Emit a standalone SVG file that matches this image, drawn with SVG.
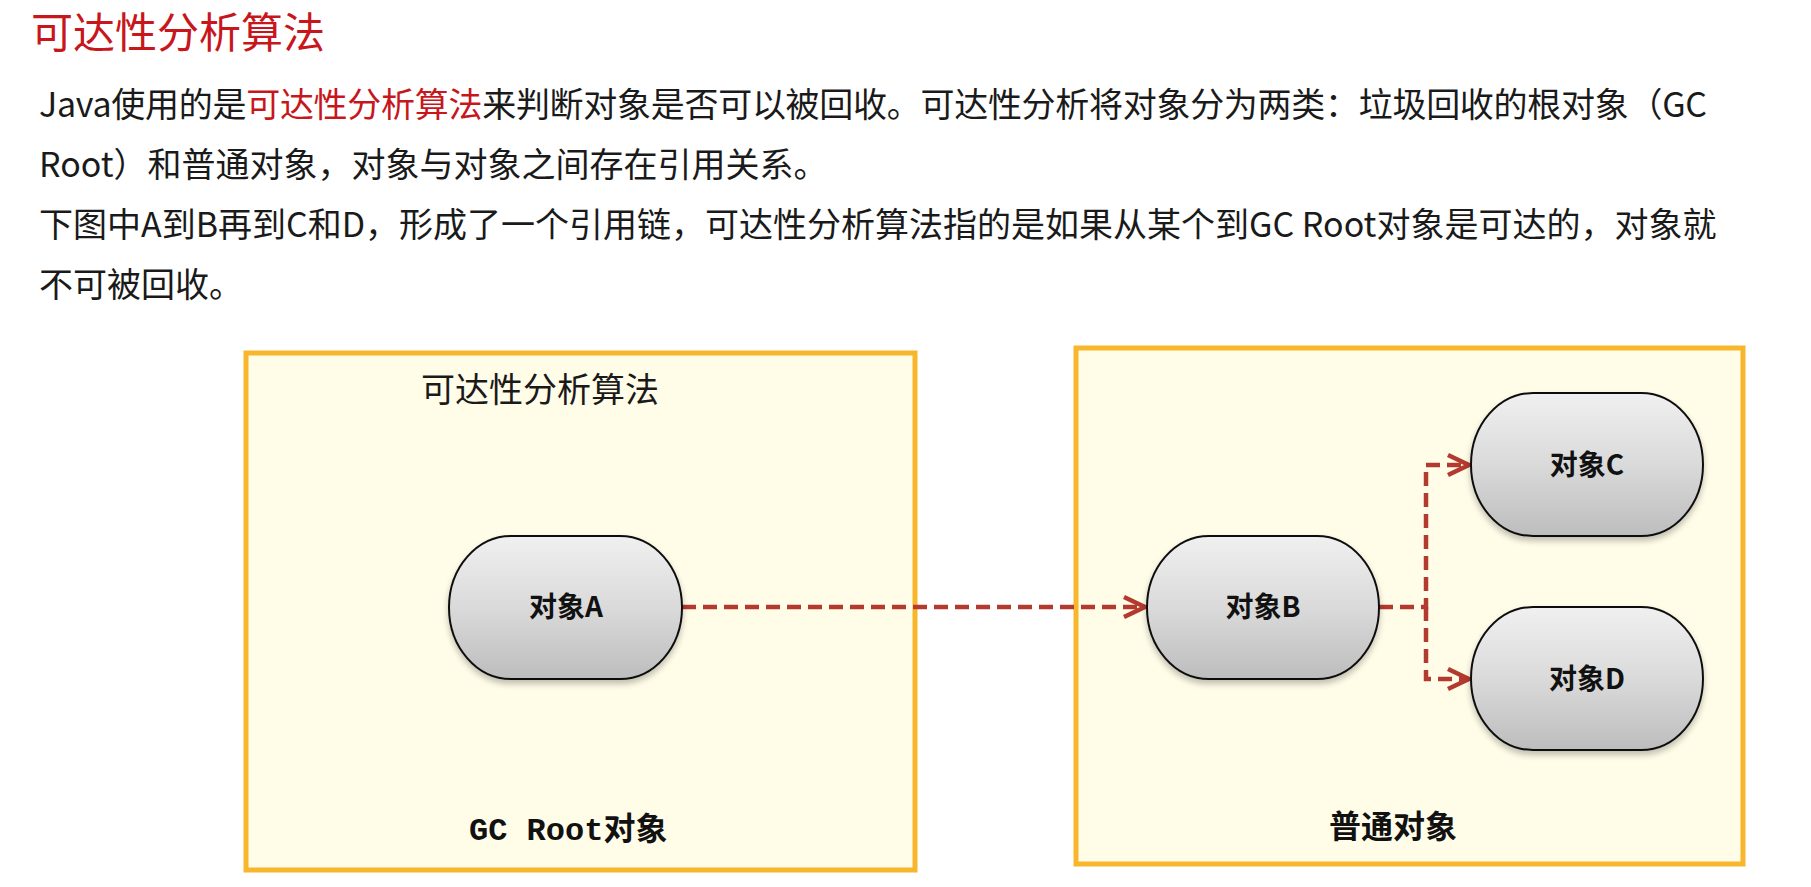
<svg xmlns="http://www.w3.org/2000/svg" width="1811" height="887" viewBox="0 0 1811 887">
  <style>
    .cjk { font-family: "Noto Sans CJK SC", "Noto Sans", sans-serif; }
    .title { font-size: 42px; fill: #C8161D; }
    .para { font-size: 34px; fill: #1A1A1A; }
    .red { fill: #C8161D; }
    .panel { fill: #FFFCE8; stroke: #F8B62D; stroke-width: 5; }
    .panelLabel { font-size: 34px; fill: #1A1A1A; }
    .caption { font-size: 32px; font-weight: bold; fill: #111111; }
    .mono { font-family: "Liberation Mono", "DejaVu Sans Mono", monospace; }
    .node { fill: url(#nodeGrad); stroke: #111111; stroke-width: 2; filter: url(#shadow); }
    .nodeText { font-size: 28px; font-weight: bold; fill: #111111; text-anchor: middle; }
    .conn { fill: none; stroke: #B23A2E; stroke-width: 4.5; stroke-dasharray: 14 7; }
  </style>
  <defs>
    <linearGradient id="nodeGrad" x1="0" y1="0" x2="0" y2="1">
      <stop offset="0" stop-color="#F0F0F0"/>
      <stop offset="0.5" stop-color="#DADADA"/>
      <stop offset="1" stop-color="#BDBDBD"/>
    </linearGradient>
    <filter id="shadow" x="-10%" y="-10%" width="120%" height="130%">
      <feGaussianBlur in="SourceAlpha" stdDeviation="3"/>
      <feOffset dx="0" dy="4" result="b"/>
      <feComponentTransfer><feFuncA type="linear" slope="0.25"/></feComponentTransfer>
      <feMerge><feMergeNode/><feMergeNode in="SourceGraphic"/></feMerge>
    </filter>
    <marker id="arrow" markerUnits="userSpaceOnUse" markerWidth="26" markerHeight="26" viewBox="0 0 26 26" refX="23" refY="13" orient="auto">
      <path d="M2,3 L23,13 L2,23" fill="none" stroke="#B23A2E" stroke-width="4.5" stroke-linejoin="miter"/>
    </marker>
  </defs>

  <rect width="1811" height="887" fill="#FFFFFF"/>

  <g id="header">
    <text class="cjk title" x="31" y="48">可达性分析算法</text>
    <text class="cjk para" x="39" y="117" textLength="1668" lengthAdjust="spacing">Java使用的是<tspan class="red">可达性分析算法</tspan>来判断对象是否可以被回收。可达性分析将对象分为两类：垃圾回收的根对象（GC</text>
    <text class="cjk para" x="39" y="177">Root）和普通对象，对象与对象之间存在引用关系。</text>
    <text class="cjk para" x="39" y="237">下图中A到B再到C和D，形成了一个引用链，可达性分析算法指的是如果从某个到GC Root对象是可达的，对象就</text>
    <text class="cjk para" x="39" y="297">不可被回收。</text>
  </g>

  <g id="panel-gcroot">
    <rect class="panel" x="246" y="353" width="669" height="517"/>
    <text class="cjk panelLabel" x="421" y="402">可达性分析算法</text>
    <text class="caption" x="469" y="840"><tspan class="mono">GC Root</tspan><tspan class="cjk">对象</tspan></text>
  </g>

  <g id="panel-normal">
    <rect class="panel" x="1076" y="348" width="667" height="516"/>
    <text class="cjk caption" x="1329" y="838">普通对象</text>
  </g>

  <g id="connectors">
    <path class="conn" d="M682,607 H1145" marker-end="url(#arrow)"/>
    <path class="conn" d="M1379,607 H1426 V465 H1469" marker-end="url(#arrow)"/>
    <path class="conn" d="M1426,607 V679 H1469" marker-end="url(#arrow)"/>
  </g>

  <g id="node-a">
    <rect class="node" x="449" y="536" width="233" height="143" rx="62" ry="71.5"/>
    <text class="cjk nodeText" x="566" y="617">对象A</text>
  </g>
  <g id="node-b">
    <rect class="node" x="1147" y="536" width="232" height="143" rx="62" ry="71.5"/>
    <text class="cjk nodeText" x="1263" y="617">对象B</text>
  </g>
  <g id="node-c">
    <rect class="node" x="1471" y="393" width="232" height="143" rx="62" ry="71.5"/>
    <text class="cjk nodeText" x="1587" y="475">对象C</text>
  </g>
  <g id="node-d">
    <rect class="node" x="1471" y="607" width="232" height="143" rx="62" ry="71.5"/>
    <text class="cjk nodeText" x="1587" y="689">对象D</text>
  </g>
</svg>
